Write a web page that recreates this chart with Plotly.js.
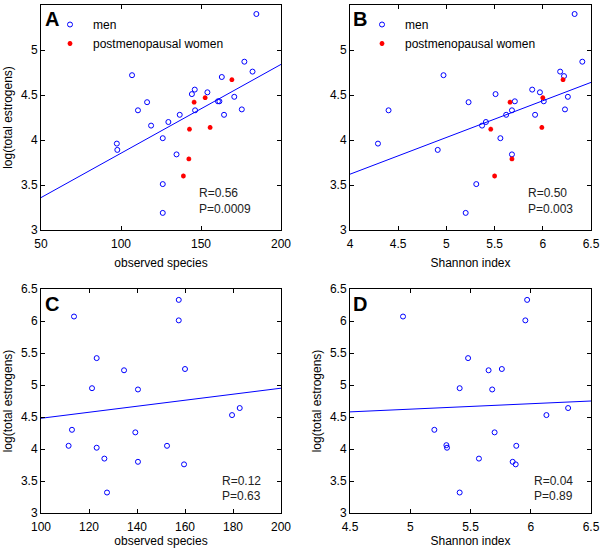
<!DOCTYPE html>
<html>
<head>
<meta charset="utf-8">
<script src="https://cdn.plot.ly/plotly-3.0.1.min.js"></script>
<style>html,body{margin:0;padding:0;background:#fff}#chart{width:600px;height:548px}</style>
</head>
<body>
<div id="chart"></div>
<script>
// Panel A: observed species vs log(total estrogens)
const aMenX = [184.6,177.1,182.2,106.9,163.0,146.1,144.3,154.0,170.8,116.3,110.6,160.6,161.5,146.3,136.7,164.4,175.5,129.6,118.8,97.4,97.7,126.1,134.7,126.1,126.1];
const aMenY = [5.40,4.87,4.76,4.72,4.70,4.56,4.51,4.53,4.48,4.42,4.33,4.43,4.43,4.33,4.28,4.28,4.34,4.20,4.16,3.96,3.89,4.02,3.84,3.51,3.19];
const aWomX = [169.3,152.6,145.7,155.7,142.8,142.4,139.0];
const aWomY = [4.67,4.47,4.42,4.14,4.12,3.79,3.60];
const aFitX = [50,200];
const aFitY = [3.36,4.84];

// Panel B: Shannon index vs log(total estrogens)
const bMenX = [6.33,6.41,6.18,6.22,4.97,4.40,4.29,5.23,5.51,5.89,5.97,6.01,6.26,5.71,5.68,5.62,5.92,6.23,5.41,5.37,4.91,5.56,5.68,5.31,5.20];
const bMenY = [5.40,4.87,4.76,4.71,4.72,4.33,3.96,4.42,4.51,4.56,4.53,4.43,4.48,4.43,4.33,4.28,4.28,4.34,4.20,4.16,3.89,4.02,3.84,3.51,3.19];
const bWomX = [6.21,6.00,5.66,5.99,5.46,5.68,5.50];
const bWomY = [4.67,4.47,4.42,4.14,4.12,3.79,3.60];
const bFitX = [4,6.5];
const bFitY = [3.62,4.64];

// Panel C: observed species vs log(total estrogens)
const cX = [113.75,157.4,157.4,123.2,134.6,160.0,121.25,140.4,179.6,182.8,112.9,139.3,111.5,123.2,152.5,126.4,140.4,159.6,127.5];
const cY = [6.07,6.33,6.01,5.42,5.23,5.25,4.95,4.93,4.53,4.64,4.30,4.26,4.05,4.02,4.05,3.85,3.80,3.76,3.32];
const cFitX = [100,200];
const cFitY = [4.48,4.95];

// Panel D: Shannon index vs log(total estrogens)
const dX = [4.94,5.97,5.955,5.48,5.65,5.76,5.41,5.68,6.13,6.31,5.20,5.70,5.30,5.305,5.88,5.57,5.85,5.875,5.41];
const dY = [6.07,6.33,6.01,5.42,5.23,5.25,4.95,4.93,4.53,4.64,4.30,4.26,4.06,4.02,4.05,3.85,3.80,3.76,3.32];
const dFitX = [4.5,6.5];
const dFitY = [4.58,4.75];

const panelLetters = ['A','B','C','D'];
const statsR = ['R=0.56','R=0.50','R=0.12','R=0.04'];
const statsP = ['P=0.0009','P=0.003','P=0.63','P=0.89'];
const menName = 'men';
const womName = 'postmenopausal women';

const BLUE = '#0000ff';
const RED = '#ff0000';
const menMarker = {symbol:'circle-open', size:5, color:BLUE, line:{width:1, color:BLUE}};
const womMarker = {symbol:'asterisk-open', size:4, color:RED, line:{width:1.5, color:RED}};
const fitLine = {color:BLUE, width:1};

const traces = [
  {x:aMenX, y:aMenY, type:'scatter', mode:'markers', name:menName, marker:menMarker, xaxis:'x', yaxis:'y', legend:'legend'},
  {x:aWomX, y:aWomY, type:'scatter', mode:'markers', name:womName, marker:womMarker, xaxis:'x', yaxis:'y', legend:'legend'},
  {x:aFitX, y:aFitY, type:'scatter', mode:'lines', line:fitLine, showlegend:false, xaxis:'x', yaxis:'y'},
  {x:bMenX, y:bMenY, type:'scatter', mode:'markers', name:menName, marker:menMarker, xaxis:'x2', yaxis:'y2', legend:'legend2'},
  {x:bWomX, y:bWomY, type:'scatter', mode:'markers', name:womName, marker:womMarker, xaxis:'x2', yaxis:'y2', legend:'legend2'},
  {x:bFitX, y:bFitY, type:'scatter', mode:'lines', line:fitLine, showlegend:false, xaxis:'x2', yaxis:'y2'},
  {x:cX, y:cY, type:'scatter', mode:'markers', marker:menMarker, showlegend:false, xaxis:'x3', yaxis:'y3'},
  {x:cFitX, y:cFitY, type:'scatter', mode:'lines', line:fitLine, showlegend:false, xaxis:'x3', yaxis:'y3'},
  {x:dX, y:dY, type:'scatter', mode:'markers', marker:menMarker, showlegend:false, xaxis:'x4', yaxis:'y4'},
  {x:dFitX, y:dFitY, type:'scatter', mode:'lines', line:fitLine, showlegend:false, xaxis:'x4', yaxis:'y4'}
];

const W = 600, H = 548;
const px = v => v / W;
const py = v => (H - v) / H;
const FONT = 'Arial, "Liberation Sans", sans-serif';

function axis(opts) {
  return Object.assign({
    showline:true, linecolor:'#000', linewidth:1, mirror:'ticks',
    ticks:'inside', ticklen:4, tickcolor:'#000', tickwidth:1,
    showgrid:false, zeroline:false, fixedrange:true, automargin:false,
    tickfont:{family:FONT, size:12, color:'#000'}
  }, opts);
}
const xTitle = (t, s) => ({text:t, font:{family:FONT, size:12, color:'#000'}, standoff:s});
const yTitle = {text:'log(total estrogens)', font:{family:FONT, size:12, color:'#000'}, standoff:5};

const colL = [px(41), px(281)];
const colR = [px(350), px(591)];
const rowT = [py(230), py(5)];
const rowB = [py(513), py(289)];

const letterPos = [[52,19],[360,19],[52,304],[360,304]];
const rPos = [[197,193],[526,193],[220,481],[532,481]];
const pPos = [[197,209],[526,209],[220,496],[532,496]];

const annotations = [];
panelLetters.forEach((L,i) => {
  annotations.push({text:'<b>'+L+'</b>', xref:'paper', yref:'paper', x:px(letterPos[i][0]), y:py(letterPos[i][1]),
    xanchor:'center', yanchor:'middle', showarrow:false, font:{family:FONT, size:20, color:'#000'}});
  annotations.push({text:statsR[i], xref:'paper', yref:'paper', x:px(rPos[i][0]), y:py(rPos[i][1]),
    xanchor:'left', yanchor:'middle', showarrow:false, font:{family:FONT, size:12, color:'#222'}});
  annotations.push({text:statsP[i], xref:'paper', yref:'paper', x:px(pPos[i][0]), y:py(pPos[i][1]),
    xanchor:'left', yanchor:'middle', showarrow:false, font:{family:FONT, size:12, color:'#222'}});
});

const legendBase = {
  xanchor:'left', yanchor:'top', bgcolor:'rgba(0,0,0,0)', borderwidth:0,
  font:{family:FONT, size:12, color:'#000'}, tracegroupgap:0, itemwidth:36
};

const layout = {
  width:W, height:H,
  margin:{l:0, r:0, t:0, b:0},
  paper_bgcolor:'#fff', plot_bgcolor:'#fff',
  showlegend:true,
  xaxis: axis({domain:colL, range:[50,200], dtick:50, tick0:50, anchor:'y', ticklabelstandoff:3, title:xTitle('observed species', 8)}),
  yaxis: axis({domain:rowT, range:[3,5.5], dtick:0.5, tick0:3, anchor:'x', title:yTitle}),
  xaxis2: axis({domain:colR, range:[4,6.5], dtick:0.5, tick0:4, anchor:'y2', ticklabelstandoff:3, title:xTitle('Shannon index', 8)}),
  yaxis2: axis({domain:rowT, range:[3,5.5], dtick:0.5, tick0:3, anchor:'x2'}),
  xaxis3: axis({domain:colL, range:[100,200], dtick:20, tick0:100, anchor:'y3', ticklabelstandoff:3, title:xTitle('observed species', 1)}),
  yaxis3: axis({domain:rowB, range:[3,6.5], dtick:0.5, tick0:3, anchor:'x3', title:yTitle}),
  xaxis4: axis({domain:colR, range:[4.5,6.5], dtick:0.5, tick0:4.5, anchor:'y4', ticklabelstandoff:3, title:xTitle('Shannon index', 1)}),
  yaxis4: axis({domain:rowB, range:[3,6.5], dtick:0.5, tick0:3, anchor:'x4', title:yTitle}),
  legend: Object.assign({x:px(47), y:py(10)}, legendBase),
  legend2: Object.assign({x:px(359), y:py(10)}, legendBase),
  annotations: annotations
};

Plotly.newPlot('chart', traces, layout, {displayModeBar:false, staticPlot:true});
</script>
</body>
</html>
